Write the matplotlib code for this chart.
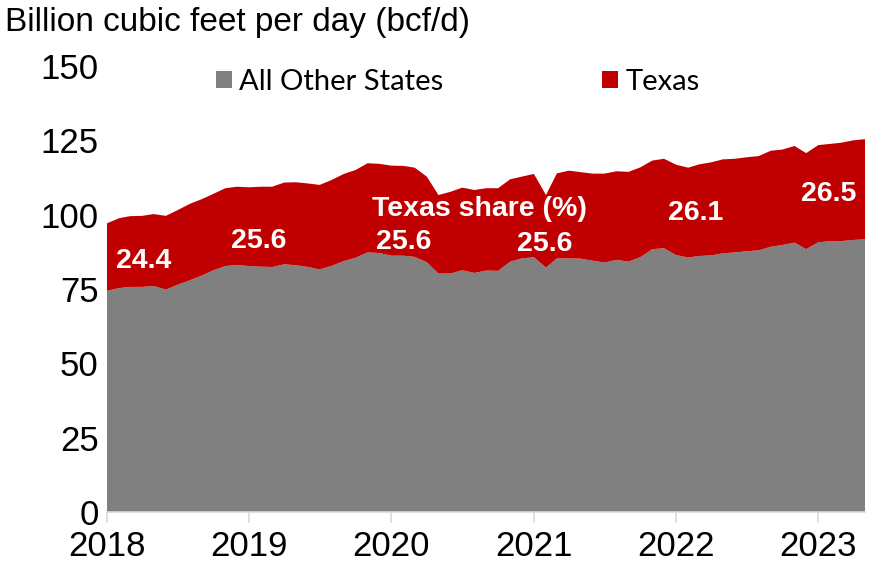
import matplotlib.pyplot as plt
import matplotlib.dates as mdates
import numpy as np
import pandas as pd

# monthly dry gas production, Jan 2018 - May 2023 (bcf/d)
months = pd.date_range("2018-01-01", periods=65, freq="MS")

total = [97.1, 98.8, 99.5, 99.6, 100.2, 99.6, 101.5, 103.6, 105.2, 107.0, 108.9, 109.4,
         109.2, 109.4, 109.4, 110.8, 110.9, 110.5, 110.0, 111.7, 113.7, 115.0, 117.3, 117.1,
         116.5, 116.4, 115.8, 112.8, 106.6, 107.7, 109.1, 108.3, 108.9, 108.9, 111.9, 112.8,
         113.7, 106.6, 113.9, 114.8, 114.3, 113.8, 113.8, 114.6, 114.4, 115.9, 118.2, 118.8,
         116.8, 115.8, 116.9, 117.6, 118.6, 118.8, 119.3, 119.7, 121.5, 121.9, 123.1, 120.7,
         123.4, 123.8, 124.2, 125.0, 125.4]

other_states = [74.4, 75.3, 75.7, 75.7, 76.0, 74.8, 76.4, 77.9, 79.5, 81.3, 82.7, 83.1,
                82.7, 82.5, 82.4, 83.3, 83.0, 82.4, 81.6, 82.8, 84.4, 85.5, 87.3, 87.1,
                86.2, 86.2, 85.8, 84.0, 80.2, 80.2, 81.3, 80.4, 81.2, 81.1, 84.2, 85.3,
                85.7, 82.2, 85.3, 85.3, 85.2, 84.5, 83.9, 84.8, 84.2, 85.7, 88.4, 88.7,
                86.4, 85.6, 86.1, 86.3, 87.0, 87.3, 87.7, 88.0, 89.2, 89.8, 90.6, 88.4,
                90.7, 91.1, 91.1, 91.5, 91.7]

texas = np.array(total) - np.array(other_states)

# Texas share of total, yearly average (%)
share_labels = ["24.4", "25.6", "25.6", "25.6", "26.1", "26.5"]
share_x = ["2018-04-05", "2019-01-25", "2020-02-01", "2021-01-28", "2022-02-20", "2023-01-28"]
share_y = [84.4, 91.0, 90.8, 90.1, 100.6, 107.0]

plt.rcParams["font.family"] = ["Liberation Sans", "DejaVu Sans"]

fig = plt.figure(figsize=(8.69, 5.62), dpi=100)
ax = fig.add_axes([107 / 869, 1 - 512 / 562, (865 - 107) / 869, (512 - 66) / 562])

ax.stackplot(months, other_states, texas, colors=["#808080", "#C00000"],
             labels=["All Other States", "Texas"], linewidth=0)

ax.set_xlim(months[0], months[-1])
ax.set_ylim(0, 150)
ax.set_yticks([0, 25, 50, 75, 100, 125, 150])
ax.xaxis.set_major_locator(mdates.YearLocator())
ax.xaxis.set_major_formatter(mdates.DateFormatter("%Y"))

for side in ["top", "right", "left"]:
    ax.spines[side].set_visible(False)
ax.spines["bottom"].set_color("#d9d9d9")
ax.spines["bottom"].set_linewidth(1.2)
ax.tick_params(axis="x", colors="#d9d9d9", labelcolor="black", length=8, width=1.2,
               labelsize=25, pad=5)
ax.tick_params(axis="y", length=0, labelsize=25, pad=6)

for lab, xd, yv in zip(share_labels, share_x, share_y):
    ax.text(pd.Timestamp(xd), yv, lab, color="white", fontsize=20.5, fontweight="bold",
            ha="center", va="center")
ax.text(pd.Timestamp("2020-08-15"), 102.0, "Texas share (%)", color="white",
        fontsize=20.5, fontweight="bold", ha="center", va="center")

fig.text(5 / 869, 1 - 23 / 562, "Billion cubic feet per day (bcf/d)", fontsize=24,
         ha="left", va="center")

ax.legend(loc="upper left", bbox_to_anchor=(0.128, 1.02), ncol=2, frameon=False,
          prop={"family": "Lato", "size": 21}, handlelength=0.55, handleheight=0.55,
          handletextpad=0.25, columnspacing=5.45, borderaxespad=0)

fig.savefig("out.png", dpi=100)
